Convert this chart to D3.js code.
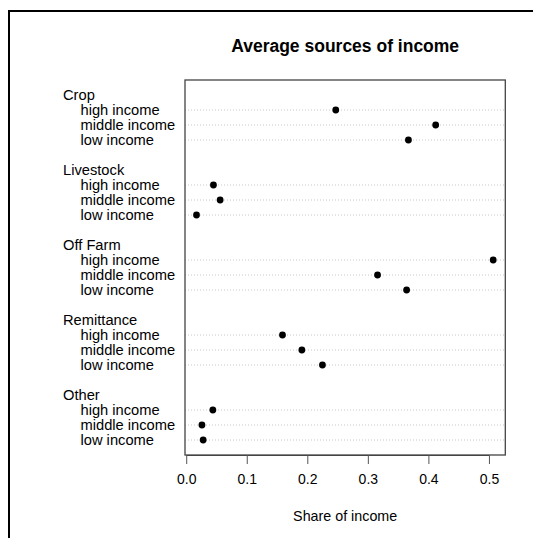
<!DOCTYPE html>
<html>
<head>
<meta charset="utf-8">
<script src="https://cdn.jsdelivr.net/npm/d3@7"></script>
<style>
  html, body { margin: 0; padding: 0; background: #fff; }
  svg { display: block; font-family: "Liberation Sans", Arial, sans-serif; }
</style>
</head>
<body>
<svg id="chart" width="533" height="538"></svg>
<script>
const groups = ["Crop", "Livestock", "Off Farm", "Remittance", "Other"];
const levels = ["high income", "middle income", "low income"];
const cropValues = [0.247, 0.412, 0.367];
const livestockValues = [0.045, 0.056, 0.017];
const offFarmValues = [0.507, 0.316, 0.364];
const remittanceValues = [0.159, 0.191, 0.225];
const otherValues = [0.044, 0.026, 0.028];
const xTicks = [0.0, 0.1, 0.2, 0.3, 0.4, 0.5];
const title = "Average sources of income";
const xLabel = "Share of income";

const seriesByGroup = [cropValues, livestockValues, offFarmValues, remittanceValues, otherValues];

// Build row layout (dotchart style: group header, 3 rows, blank)
const rows = [];
const headers = [];
let idx = 0;
groups.forEach((g, gi) => {
  headers.push({ label: g, pos: idx });
  idx++;
  levels.forEach((l, li) => {
    rows.push({ group: g, label: l, value: seriesByGroup[gi][li], pos: idx });
    idx++;
  });
  idx++; // blank
});
const nPos = idx - 1;

const svg = d3.select("#chart");

// outer frame
svg.append("rect")
  .attr("x", 9).attr("y", 11)
  .attr("width", 600).attr("height", 600)
  .attr("fill", "none").attr("stroke", "#000").attr("stroke-width", 2);

const plot = { left: 185, right: 505.3, top: 80, bottom: 455 };

const x = d3.scaleLinear().domain([-0.002, 0.527]).range([plot.left, plot.right]);
const y = d3.scaleLinear().domain([-1, nPos]).range([plot.top, plot.bottom]);

// gridlines
svg.append("g").selectAll("line").data(rows).join("line")
  .attr("x1", plot.left).attr("x2", plot.right)
  .attr("y1", d => y(d.pos)).attr("y2", d => y(d.pos))
  .attr("stroke", "#c8c8c8").attr("stroke-width", 1)
  .attr("stroke-dasharray", "1,2");

// points
svg.append("g").selectAll("circle").data(rows).join("circle")
  .attr("cx", d => x(d.value)).attr("cy", d => y(d.pos))
  .attr("r", 3.4).attr("fill", "#000");

// box
svg.append("rect")
  .attr("x", plot.left).attr("y", plot.top)
  .attr("width", plot.right - plot.left).attr("height", plot.bottom - plot.top)
  .attr("fill", "none").attr("stroke", "#444").attr("stroke-width", 1.3);

// x axis
const axis = d3.axisBottom(x).tickValues(xTicks).tickFormat(d3.format(".1f")).tickSizeOuter(0).tickSize(9).tickPadding(10);
const ax = svg.append("g").attr("transform", `translate(0,${plot.bottom})`).call(axis);
ax.select(".domain").attr("stroke", "#444").attr("d", `M${x(0)},0.5H${x(0.5)}`);
ax.selectAll(".tick line").attr("stroke", "#555");
ax.selectAll(".tick text").attr("font-size", 14).attr("fill", "#000")
  .attr("font-family", "Liberation Sans, Arial, sans-serif");

// labels
svg.append("g").selectAll("text").data(headers).join("text")
  .attr("x", 63).attr("y", d => y(d.pos) + 5)
  .attr("font-size", 14.7).attr("fill", "#000")
  .text(d => d.label);
svg.append("g").selectAll("text").data(rows).join("text")
  .attr("x", 80.5).attr("y", d => y(d.pos) + 5)
  .attr("font-size", 14.7).attr("fill", "#000")
  .text(d => d.label);

// title
svg.append("text")
  .attr("x", (plot.left + plot.right) / 2).attr("y", 52)
  .attr("text-anchor", "middle").attr("font-size", 17.5).attr("font-weight", "bold")
  .text(title);

// x label
svg.append("text")
  .attr("x", (plot.left + plot.right) / 2).attr("y", 521)
  .attr("text-anchor", "middle").attr("font-size", 14.3)
  .text(xLabel);
</script>
</body>
</html>
